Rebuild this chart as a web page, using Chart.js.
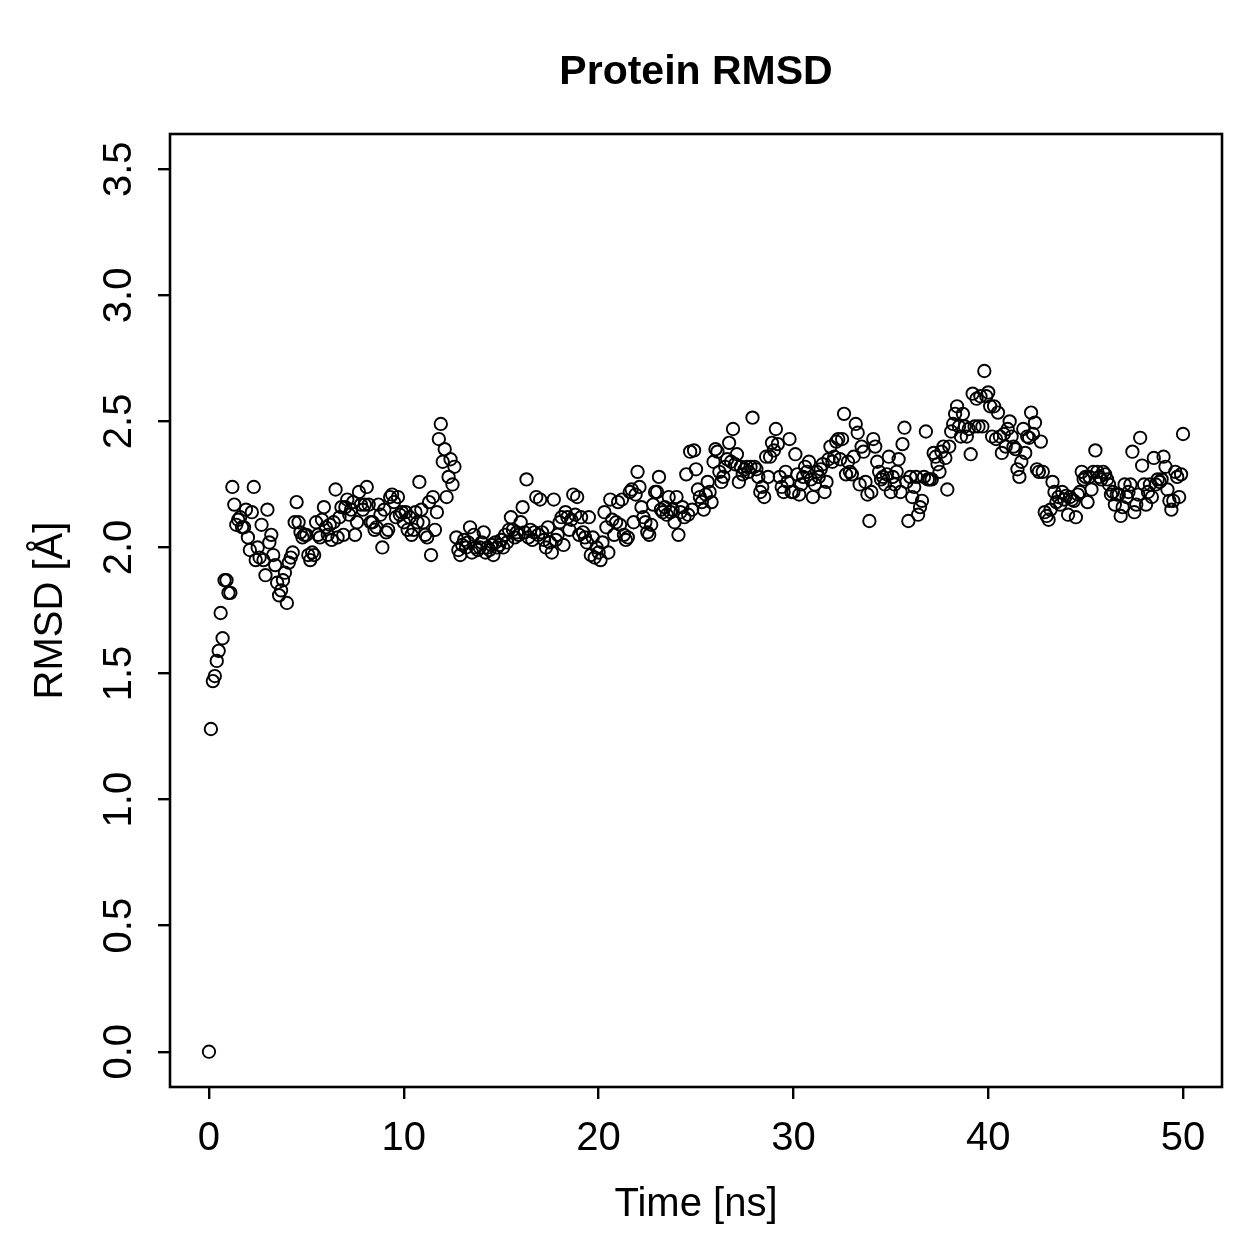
<!DOCTYPE html>
<html>
<head>
<meta charset="utf-8">
<script src="https://cdn.jsdelivr.net/npm/chart.js@4/dist/chart.umd.min.js"></script>
<style>
  html, body { margin: 0; padding: 0; background: #ffffff; }
  #wrap { width: 1259px; height: 1259px; }
</style>
</head>
<body>
<div id="wrap"><canvas id="c" width="1259" height="1259"></canvas></div>
<script>
// ---- data (RMSD in Å, one sample every 0.1 ns from 0 to 50 ns) ----
const titleText = "Protein RMSD";
const xLabel = "Time [ns]";
const yLabel = "RMSD [Å]";
const startTime = 0;
const timeStep = 0.1;
const xTicks = [0, 10, 20, 30, 40, 50];
const yTicks = [0.0, 0.5, 1.0, 1.5, 2.0, 2.5, 3.0, 3.5];

const rmsd = [
  0.00, 1.28, 1.47, 1.49, 1.55, 1.59, 1.74, 1.64, 1.87, 1.87,
  1.82, 1.82, 2.24, 2.17, 2.09, 2.11, 2.12, 2.08, 2.08, 2.15,
  2.04, 1.99, 2.14, 2.24, 1.95, 2.00, 1.96, 2.09, 1.95, 1.89,
  2.15, 2.02, 2.05, 1.97, 1.93, 1.86, 1.81, 1.83, 1.87, 1.90,
  1.78, 1.94, 1.96, 1.98, 2.10, 2.18, 2.10, 2.06, 2.04, 2.05,
  2.05, 1.97, 1.95, 1.98, 1.97, 2.10, 2.05, 2.04, 2.11, 2.16,
  2.08, 2.05, 2.09, 2.03, 2.10, 2.23, 2.04, 2.12, 2.16, 2.05,
  2.16, 2.19, 2.13, 2.15, 2.18, 2.05, 2.10, 2.22, 2.17, 2.15,
  2.17, 2.24, 2.17, 2.10, 2.10, 2.07, 2.08, 2.17, 2.13, 2.00,
  2.15, 2.06, 2.07, 2.20, 2.21, 2.18, 2.12, 2.20, 2.13, 2.14,
  2.10, 2.14, 2.07, 2.12, 2.05, 2.07, 2.14, 2.10, 2.26, 2.15,
  2.10, 2.05, 2.04, 2.18, 1.97, 2.20, 2.07, 2.14, 2.43, 2.49,
  2.34, 2.39, 2.20, 2.28, 2.35, 2.25, 2.32, 2.04, 1.99, 1.97,
  2.01, 2.03, 2.00, 2.02, 2.08, 1.98, 2.05, 2.00, 1.99, 2.00,
  2.02, 2.06, 1.98, 2.00, 1.99, 2.01, 1.97, 2.02, 2.00, 2.01,
  2.03, 2.00, 2.05, 2.02, 2.07, 2.12, 2.07, 2.04, 2.06, 2.05,
  2.10, 2.16, 2.06, 2.27, 2.04, 2.07, 2.03, 2.06, 2.20, 2.05,
  2.19, 2.06, 2.03, 2.00, 2.08, 2.02, 1.98, 2.19, 2.03, 2.05,
  2.10, 2.12, 2.01, 2.14, 2.12, 2.07, 2.11, 2.21, 2.13, 2.20,
  2.05, 2.12, 2.06, 2.04, 2.02, 2.12, 1.97, 2.04, 1.96, 2.00,
  1.98, 1.95, 2.02, 2.14, 2.08, 1.98, 2.19, 2.11, 2.05, 2.10,
  2.18, 2.09, 2.19, 2.05, 2.03, 2.04, 2.22, 2.23, 2.10, 2.21,
  2.30, 2.24, 2.16, 2.12, 2.10, 2.06, 2.05, 2.09, 2.17, 2.22,
  2.22, 2.28, 2.15, 2.14, 2.16, 2.13, 2.20, 2.14, 2.15, 2.10,
  2.20, 2.05, 2.14, 2.16, 2.12, 2.29, 2.13, 2.38, 2.15, 2.385,
  2.31, 2.23, 2.20, 2.18, 2.15, 2.21, 2.26, 2.22, 2.18, 2.34,
  2.39, 2.38, 2.30, 2.26, 2.28, 2.32, 2.35, 2.415, 2.34, 2.47,
  2.33, 2.37, 2.26, 2.32, 2.29, 2.31, 2.32, 2.30, 2.32, 2.515,
  2.32, 2.31, 2.28, 2.22, 2.24, 2.20, 2.36, 2.28, 2.36, 2.415,
  2.385, 2.47, 2.41, 2.28, 2.24, 2.22, 2.30, 2.26, 2.43, 2.22,
  2.22, 2.37, 2.29, 2.21, 2.25, 2.28, 2.32, 2.30, 2.34, 2.27,
  2.20, 2.25, 2.30, 2.28, 2.31, 2.33, 2.22, 2.26, 2.35, 2.40,
  2.34, 2.36, 2.42, 2.43, 2.35, 2.43, 2.53, 2.29, 2.34, 2.30,
  2.29, 2.36, 2.49, 2.455, 2.25, 2.40, 2.38, 2.26, 2.21, 2.105,
  2.22, 2.43, 2.40, 2.34, 2.30, 2.27, 2.28, 2.25, 2.29, 2.36,
  2.22, 2.28, 2.25, 2.30, 2.35, 2.22, 2.41, 2.475, 2.26, 2.105,
  2.28, 2.20, 2.24, 2.28, 2.13, 2.16, 2.185, 2.28, 2.46, 2.27,
  2.27, 2.27, 2.375, 2.36, 2.33, 2.30, 2.38, 2.40, 2.355, 2.23,
  2.40, 2.46, 2.49, 2.53, 2.56, 2.48, 2.44, 2.53, 2.48, 2.44,
  2.47, 2.37, 2.61, 2.48, 2.59, 2.48, 2.60, 2.48, 2.70, 2.60,
  2.615, 2.56, 2.44, 2.56, 2.43, 2.535, 2.44, 2.375, 2.45, 2.40,
  2.47, 2.50, 2.44, 2.40, 2.39, 2.31, 2.28, 2.34, 2.47, 2.375,
  2.44, 2.435, 2.535, 2.45, 2.495, 2.31, 2.30, 2.42, 2.30, 2.14,
  2.125, 2.11, 2.15, 2.26, 2.22, 2.18, 2.20, 2.17, 2.22, 2.19,
  2.205, 2.13, 2.20, 2.19, 2.185, 2.12, 2.21, 2.22, 2.30, 2.27,
  2.28, 2.18, 2.28, 2.23, 2.30, 2.385, 2.30, 2.28, 2.27, 2.30,
  2.29, 2.27, 2.25, 2.21, 2.22, 2.17, 2.21, 2.21, 2.125, 2.16,
  2.25, 2.20, 2.22, 2.25, 2.38, 2.14, 2.17, 2.21, 2.435, 2.325,
  2.25, 2.17, 2.22, 2.25, 2.20, 2.355, 2.25, 2.27, 2.26, 2.27,
  2.36, 2.32, 2.23, 2.185, 2.15, 2.185, 2.30, 2.28, 2.20, 2.29,
  2.45
];

const points = rmsd.map((v, i) => ({ x: +(startTime + i * timeStep).toFixed(1), y: v }));

const FONT = "'Liberation Sans', Arial, Helvetica, sans-serif";

const framePlugin = {
  id: 'frame',
  afterDraw(chart) {
    const { ctx, chartArea: a } = chart;
    ctx.save();
    ctx.strokeStyle = '#000';
    ctx.lineWidth = 2.6;
    ctx.strokeRect(a.left, a.top, a.right - a.left, a.bottom - a.top);
    ctx.fillStyle = '#000';
    ctx.font = "bold 41px " + FONT;
    ctx.textAlign = 'center';
    ctx.textBaseline = 'alphabetic';
    ctx.fillText(titleText, (a.left + a.right) / 2, 84);
    ctx.restore();
  }
};

new Chart(document.getElementById('c'), {
  type: 'scatter',
  data: {
    datasets: [{
      data: points,
      pointStyle: 'circle',
      pointRadius: 6.2,
      pointBorderWidth: 1.9,
      borderColor: '#000',
      backgroundColor: 'rgba(0,0,0,0)',
      pointBackgroundColor: 'rgba(0,0,0,0)',
      pointBorderColor: '#000'
    }]
  },
  options: {
    responsive: false,
    devicePixelRatio: 1,
    animation: false,
    events: [],
    layout: { padding: { top: 134, right: 37, bottom: 0, left: 0 } },
    plugins: { legend: { display: false }, title: { display: false }, tooltip: { enabled: false } },
    scales: {
      x: {
        type: 'linear',
        min: -2,
        max: 52,
        afterBuildTicks(scale) { scale.ticks = xTicks.map(v => ({ value: v })); },
        afterFit(scale) { scale.height = 172; },
        border: { display: false },
        grid: { display: true, drawOnChartArea: false, drawTicks: true, tickLength: 12, color: '#000', lineWidth: 2.4 },
        ticks: {
          color: '#000', padding: 16, maxRotation: 0, minRotation: 0,
          font: { family: FONT, size: 40 },
          callback: (v) => String(v)
        },
        title: { display: true, text: xLabel, color: '#000', font: { family: FONT, size: 40 }, padding: { top: 0, bottom: 30 } }
      },
      y: {
        type: 'linear',
        min: -0.14,
        max: 3.64,
        afterBuildTicks(scale) { scale.ticks = yTicks.map(v => ({ value: v })); },
        afterFit(scale) { scale.width = 170; },
        border: { display: false },
        grid: { display: true, drawOnChartArea: false, drawTicks: true, tickLength: 12, color: '#000', lineWidth: 2.4 },
        ticks: {
          color: '#000', padding: 10, minRotation: 90, maxRotation: 90, crossAlign: 'center',
          font: { family: FONT, size: 40 },
          callback: (v) => Number(v).toFixed(1)
        },
        title: { display: true, text: yLabel, color: '#000', font: { family: FONT, size: 40 }, padding: { top: 27, bottom: 0 } }
      }
    }
  },
  plugins: [framePlugin]
});
</script>
</body>
</html>
